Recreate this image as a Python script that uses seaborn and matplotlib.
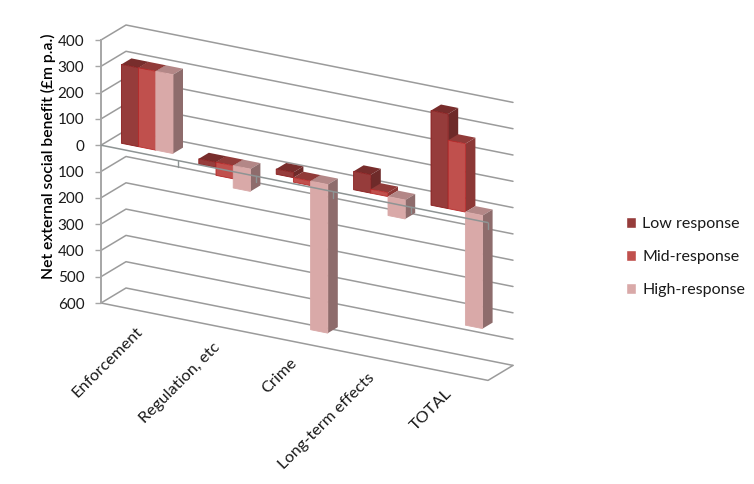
import numpy as np
import pandas as pd
import matplotlib
matplotlib.use("Agg")
import matplotlib.pyplot as plt
from matplotlib.patches import Polygon
from matplotlib.transforms import Affine2D, IdentityTransform
import seaborn as sns

# Valores
categories = ["Enforcement", "Regulation, etc", "Crime", "Long-term effects", "TOTAL"]
low_response = [300, -20, 20, 70, 360]
mid_response = [300, -50, -17, 15, 260]
high_response = [300, -85, -565, -72, -430]
series_names = ["Low response", "Mid-response", "High-response"]
value_ticks = [400, 300, 200, 100, 0, -100, -200, -300, -400, -500, -600]
tick_labels = ["400", "300", "200", "100", "0", "100", "200", "300", "400", "500", "600"]

front_colors = ["#963C3B", "#C0504D", "#D9A9A8"]
side_colors = ["#6E2A29", "#8C3836", "#8E6C6C"]
top_colors = ["#782D2C", "#913B39", "#B38787"]
edge_colors = ["#8A1C1C", "#B82A2A", "#D9A9A8"]
grid_color = "#9B9B9B"
text_color = "#1A1A1A"

df = pd.DataFrame({
    "category": categories * 3,
    "value": low_response + mid_response + high_response,
    "series": np.repeat(series_names, len(categories)),
})

sns.set_theme(style="white")
plt.rcParams["font.family"] = ["Lato", "DejaVu Sans"]

W, H = 754, 484
fig = plt.figure(figsize=(W / 100, H / 100), dpi=100)
ax = fig.add_axes([101 / W, (H - 303) / H, 387 / W, 263 / H])
sns.barplot(data=df, x="category", y="value", hue="series", order=categories,
            hue_order=series_names, palette=front_colors, saturation=1,
            width=2 / 3, gap=0, errorbar=None, ax=ax)
ax.set_xlim(-0.5, 4.5)
ax.set_ylim(-600, 400)

# Projeção oblíqua: inclina o eixo das categorias e desloca em profundidade
x0 = ax.transData.transform((-0.5, 0))[0]
shear = Affine2D.from_values(1, -0.2, 0, 1, 0, 0.2 * x0)
depth_x, depth_y = 25, 15


def plane(d):
    return ax.transData + shear + Affine2D().translate(depth_x * d, depth_y * d)


def project(x, v, d):
    return plane(d).transform((x, v))


identity = IdentityTransform()
wall_kw = dict(color=grid_color, lw=1.1, transform=identity, clip_on=False, zorder=1)

# Grades das paredes
for v in value_ticks:
    pts = np.array([project(-0.5, v, 0), project(-0.5, v, 1), project(4.5, v, 1)])
    ax.plot(pts[:, 0], pts[:, 1], **wall_kw)

# Chão
pts = np.array([project(-0.5, -600, 0), project(4.5, -600, 0), project(4.5, -600, 1)])
ax.plot(pts[:, 0], pts[:, 1], **wall_kw)

# Barras: a frente vem do seaborn, topo e lateral saem da geometria da barra
d0, d1 = 0.3, 0.7
for i in range(len(categories)):
    for j, container in enumerate(ax.containers):
        bar = container[i]
        left, right = bar.get_x(), bar.get_x() + bar.get_width()
        y0, y1 = bar.get_y(), bar.get_y() + bar.get_height()
        lo, hi = min(y0, y1), max(y0, y1)
        z = 3 + i + j * 0.1
        top = [project(left, hi, d0), project(right, hi, d0), project(right, hi, d1), project(left, hi, d1)]
        side = [project(right, lo, d0), project(right, hi, d0), project(right, hi, d1), project(right, lo, d1)]
        ax.add_patch(Polygon(top, closed=True, facecolor=top_colors[j], edgecolor="none",
                             transform=identity, clip_on=False, zorder=z))
        ax.add_patch(Polygon(side, closed=True, facecolor=side_colors[j], edgecolor="none",
                             transform=identity, clip_on=False, zorder=z))
        bar.set_transform(plane(d0))
        bar.set_clip_on(False)
        bar.set_edgecolor(edge_colors[j])
        bar.set_linewidth(0.6)
        bar.set_zorder(z + 0.01)

# Linha do zero com marcas, por cima das barras
pts = np.array([project(-0.5, 0, 0), project(4.5, 0, 0)])
ax.plot(pts[:, 0], pts[:, 1], color="#8E9494", lw=1.1, transform=identity, clip_on=False, zorder=20)
for b in range(1, 6):
    px, py = project(b - 0.5, 0, 0)
    ax.plot([px, px], [py, py - 6], color="#8E9494", lw=1, transform=identity, clip_on=False, zorder=20)

# Eixo de valores
sns.despine(ax=ax, top=True, right=True, bottom=True)
ax.spines["left"].set_color("#A6A6A6")
ax.spines["left"].set_linewidth(1.4)
ax.set_yticks(value_ticks, tick_labels, fontsize=11, color=text_color)
ax.tick_params(axis="y", left=True, length=4, width=1, color="#A6A6A6", pad=8)
ax.set_xticks([])
ax.set_xlabel("")
ax.set_ylabel("Net external social benefit (£m p.a.)", fontsize=11.25, color="black",
              fontweight="semibold", labelpad=0)
ax.yaxis.set_label_coords(-45 / 387, 0.5 + 15.5 / 263)
ax.patch.set_alpha(0)

# Rótulos das categorias
label_shift = Affine2D().translate(0.5, -19)
for i, name in enumerate(categories):
    ax.text(i, -600, name, transform=plane(0) + label_shift, rotation=45, ha="right", va="center",
            rotation_mode="anchor", fontsize=11.8, color=text_color, clip_on=False)

# Legenda
handles, labels = ax.get_legend_handles_labels()
ax.legend(handles, labels, loc="center left", bbox_to_anchor=(626 / W, 1 - 257 / H),
          bbox_transform=fig.transFigure, frameon=False, fontsize=11.5, borderpad=0, borderaxespad=0,
          handlelength=0.63, handleheight=0.63, handletextpad=0.4, labelspacing=1.19,
          labelcolor=text_color)

fig.savefig("out.png", dpi=100, facecolor="white")
plt.close(fig)
